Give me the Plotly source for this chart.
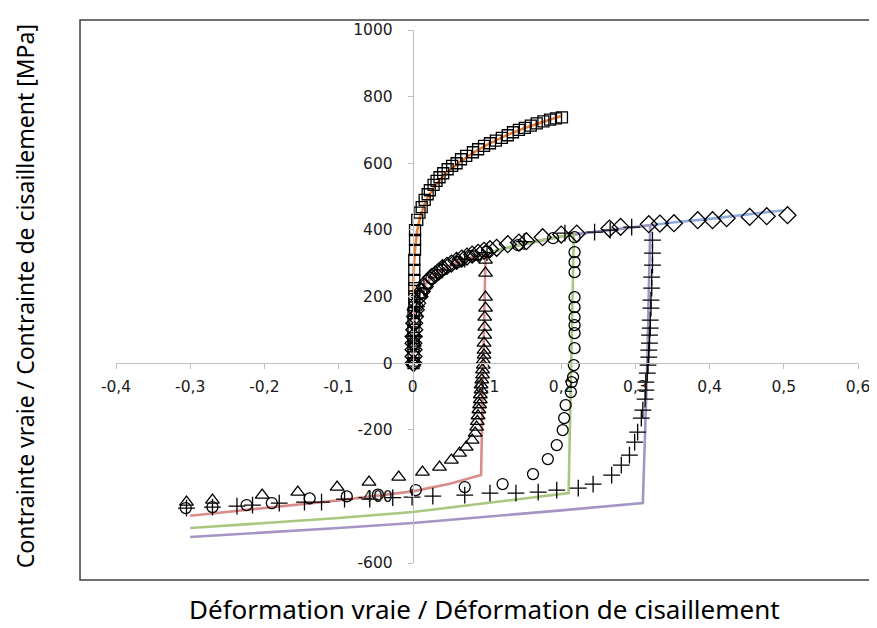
import plotly.graph_objects as go

# ---------------- data ----------------
x_ticks = [-0.4, -0.3, -0.2, -0.1, 0, 0.1, 0.2, 0.3, 0.4, 0.5, 0.6]
x_tick_labels = ["-0,4", "-0,3", "-0,2", "-0,1", "0", "0,1", "0,2", "0,3", "0,4", "0,5", "0,6"]
y_ticks = [-600, -400, -200, 0, 200, 400, 600, 800, 1000]
y_tick_labels = ["-600", "-400", "-200", "0", "200", "400", "600", "800", "1000"]

# model lines
orange_x = [0, 0.001, 0.003, 0.006, 0.01, 0.015, 0.02, 0.03, 0.04, 0.05, 0.06, 0.08, 0.1, 0.125, 0.15, 0.175, 0.2]
orange_y = [200, 280, 340, 400, 440, 472, 497, 532, 560, 580, 598, 630, 655, 683, 705, 724, 742]

blue_x = [0, 0.001, 0.003, 0.006, 0.01, 0.02, 0.03, 0.04, 0.05, 0.06, 0.08, 0.1, 0.125, 0.15, 0.175, 0.2, 0.22, 0.25, 0.3, 0.32, 0.35, 0.4, 0.45, 0.5]
blue_y = [0, 100, 150, 190, 215, 245, 265, 280, 292, 302, 317, 330, 345, 358, 370, 380, 387, 395, 410, 414, 422, 433, 446, 459]

red_x = [0, 0.001, 0.003, 0.006, 0.01, 0.02, 0.03, 0.04, 0.05, 0.06, 0.08, 0.098, 0.095, 0.092, 0.05, 0, -0.1, -0.2, -0.3]
red_y = [0, 100, 150, 190, 215, 245, 265, 280, 292, 302, 317, 325, 0, -336, -362, -385, -412, -436, -458]

green_x = [0, 0.001, 0.003, 0.006, 0.01, 0.02, 0.03, 0.04, 0.05, 0.06, 0.08, 0.1, 0.125, 0.15, 0.175, 0.2, 0.217, 0.214, 0.21, 0.1, 0, -0.1, -0.2, -0.3]
green_y = [0, 100, 150, 190, 215, 245, 265, 280, 292, 302, 317, 330, 345, 358, 370, 380, 386, 0, -390, -420, -447, -465, -480, -495]

purple_x = [0, 0.001, 0.003, 0.006, 0.01, 0.02, 0.03, 0.04, 0.05, 0.06, 0.08, 0.1, 0.125, 0.15, 0.175, 0.2, 0.22, 0.25, 0.3, 0.32, 0.316, 0.31, 0.2, 0.1, 0, -0.1, -0.2, -0.3]
purple_y = [0, 100, 150, 190, 215, 245, 265, 280, 292, 302, 317, 330, 345, 358, 370, 380, 387, 395, 410, 414, 0, -420, -442, -462, -480, -495, -509, -522]

# experimental points
sq_x = [0.001, 0.001, 0.001, 0.001, 0.001, 0.001, 0.001, 0.002, 0.002, 0.002, 0.002, 0.002, 0.002, 0.003, 0.003, 0.003,
        0.006, 0.009, 0.012, 0.016, 0.02, 0.023, 0.028, 0.032, 0.036, 0.041, 0.047, 0.053, 0.059, 0.065, 0.072, 0.081,
        0.088, 0.096, 0.104, 0.112, 0.12, 0.128, 0.135, 0.143, 0.151, 0.159, 0.167, 0.176, 0.185, 0.193, 0.201]
sq_y = [0, 25, 50, 75, 100, 125, 150, 175, 200, 225, 250, 280, 310, 340, 370, 399,
        430, 452, 468, 490, 507, 519, 535, 547, 558, 570, 582, 592, 600, 612, 622, 633,
        642, 652, 660, 668, 676, 684, 693, 700, 706, 713, 720, 726, 731, 735, 738]

dia_x = [0.001, 0.001, 0.001, 0.001, 0.001, 0.002, 0.002, 0.003, 0.004, 0.006, 0.009, 0.012, 0.016, 0.02, 0.025, 0.03,
         0.035, 0.04, 0.046, 0.052, 0.059, 0.066, 0.073, 0.08, 0.088, 0.096, 0.104, 0.113, 0.128, 0.143, 0.153, 0.175,
         0.2, 0.221, 0.265, 0.28, 0.318, 0.333, 0.352, 0.384, 0.404, 0.423, 0.454, 0.477, 0.505]
dia_y = [0, 20, 40, 60, 80, 100, 120, 140, 160, 180, 200, 215, 230, 245, 258, 266,
         275, 285, 292, 299, 307, 314, 320, 326, 331, 337, 342, 346, 357, 362, 366, 378,
         386, 389, 404, 409, 417, 419, 420, 429, 429, 435, 439, 441, 444]

tri_x = [0.001, 0.002, 0.004, 0.01, 0.03, 0.06, 0.08, 0.098, 0.098, 0.098, 0.098, 0.097, 0.097, 0.097, 0.096, 0.096,
         0.096, 0.095, 0.095, 0.094, 0.094, 0.093, 0.092, 0.092, 0.091, 0.091, 0.09, 0.089, 0.088, 0.087, 0.086, 0.084,
         0.08, 0.072, 0.063, 0.052, 0.036, 0.013, -0.019, -0.059, -0.102, -0.155, -0.203, -0.27, -0.305]
tri_y = [0, 60, 150, 205, 265, 303, 320, 309, 270, 198, 165, 138, 108, 84, 60, 39,
         24, 9, -6, -20, -35, -50, -65, -80, -95, -110, -125, -140, -158, -175, -192, -210,
         -231, -252, -270, -291, -312, -327, -342, -357, -372, -387, -396, -411, -417]

circ_x = [0.001, 0.002, 0.003, 0.006, 0.012, 0.025, 0.04, 0.06, 0.08, 0.1, 0.142, 0.189, 0.218, 0.218, 0.218, 0.218,
          0.218, 0.218, 0.218, 0.218, 0.218, 0.218, 0.217, 0.216, 0.214, 0.213, 0.206, 0.204, 0.202, 0.194, 0.182, 0.162,
          0.121, 0.07, 0.004, -0.047, -0.089, -0.139, -0.19, -0.224, -0.27, -0.306]
circ_y = [0, 60, 120, 170, 210, 255, 280, 303, 322, 335, 354, 375, 378, 333, 303, 273,
          198, 168, 138, 114, 90, 45, -6, -42, -57, -87, -126, -165, -201, -246, -288, -333,
          -363, -372, -381, -395, -400, -406, -420, -426, -432, -435]

plus_x = [0.001, 0.002, 0.005, 0.015, 0.04, 0.07, 0.1, 0.15, 0.205, 0.245, 0.266, 0.295, 0.323, 0.323, 0.323, 0.322,
          0.322, 0.321, 0.321, 0.32, 0.32, 0.319, 0.319, 0.318, 0.318, 0.317, 0.316, 0.314, 0.314, 0.313, 0.31, 0.308,
          0.303, 0.299, 0.292, 0.281, 0.268, 0.243, 0.223, 0.194, 0.169, 0.139, 0.104, 0.07, 0.027, -0.001, -0.027,
          -0.058, -0.092, -0.123, -0.146, -0.18, -0.216, -0.237, -0.27, -0.305]
plus_y = [0, 80, 170, 225, 280, 312, 332, 365, 390, 393, 399, 408, 369, 330, 294, 258,
          225, 189, 165, 129, 105, 84, 60, 39, 18, -6, -30, -57, -81, -108, -141, -165,
          -207, -237, -276, -306, -336, -363, -375, -381, -387, -390, -390, -396, -399, -402, -404,
          -408, -408, -417, -417, -420, -426, -429, -432, -435]

# ---------------- figure ----------------
fig = go.Figure()
line_w = 2.6
fig.add_trace(go.Scatter(x=blue_x, y=blue_y, mode="lines", line=dict(color="#8FAADC", width=line_w), hoverinfo="skip"))
fig.add_trace(go.Scatter(x=purple_x, y=purple_y, mode="lines", line=dict(color="#A495C4", width=line_w), hoverinfo="skip"))
fig.add_trace(go.Scatter(x=green_x, y=green_y, mode="lines", line=dict(color="#A9C77E", width=line_w), hoverinfo="skip"))
fig.add_trace(go.Scatter(x=red_x, y=red_y, mode="lines", line=dict(color="#D98D8B", width=line_w), hoverinfo="skip"))
fig.add_trace(go.Scatter(x=orange_x, y=orange_y, mode="lines", line=dict(color="#EE7F2D", width=line_w), hoverinfo="skip"))

mk_line = dict(color="black", width=1.3)
fig.add_trace(go.Scatter(x=sq_x, y=sq_y, mode="markers",
                         marker=dict(symbol="square-open", size=11, color="black", line=mk_line)))
fig.add_trace(go.Scatter(x=dia_x, y=dia_y, mode="markers",
                         marker=dict(symbol="diamond-open", size=13, color="black", line=mk_line)))
fig.add_trace(go.Scatter(x=tri_x, y=tri_y, mode="markers",
                         marker=dict(symbol="triangle-up-open", size=12, color="black", line=mk_line)))
fig.add_trace(go.Scatter(x=circ_x, y=circ_y, mode="markers",
                         marker=dict(symbol="circle-open", size=11, color="black", line=mk_line)))
fig.add_trace(go.Scatter(x=plus_x, y=plus_y, mode="markers",
                         marker=dict(symbol="cross-thin-open", size=12, color="black", line=mk_line)))

tick_font = dict(family="DejaVu Sans", size=15.5, color="#1a1a1a")
fig.update_layout(
    width=877, height=628,
    margin=dict(l=108, r=27, t=22, b=73),
    paper_bgcolor="white", plot_bgcolor="rgba(0,0,0,0)",
    showlegend=False,
    xaxis=dict(range=[-0.4, 0.6], tickvals=x_ticks, ticktext=x_tick_labels,
               showgrid=False, zeroline=False, showline=True, linecolor="#BFBFBF", linewidth=1,
               ticks="outside", ticklen=5, tickcolor="#BFBFBF", ticklabelstandoff=4,
               anchor="free", position=0.375, tickfont=tick_font),
    yaxis=dict(range=[-600, 1000], tickvals=y_ticks, ticktext=y_tick_labels,
               showgrid=False, zeroline=False, showline=True, linecolor="#BFBFBF", linewidth=1,
               ticks="outside", ticklen=5, tickcolor="#BFBFBF", ticklabelstandoff=12,
               anchor="free", position=0.4, tickfont=tick_font),
    shapes=[dict(type="rect", xref="paper", yref="paper",
                 x0=-0.0485, x1=1.05, y0=-0.032, y1=1.0188,
                 line=dict(color="#404040", width=1.5), fillcolor="rgba(0,0,0,0)", layer="below")],
    annotations=[
        dict(text="Déformation vraie / Déformation de cisaillement", xref="paper", yref="paper",
             x=0.497, y=-0.086, xanchor="center", yanchor="middle", showarrow=False,
             font=dict(family="Noto Sans", size=26, color="black")),
        dict(text="Contrainte vraie / Contrainte de cisaillement [MPa]", xref="paper", yref="paper",
             x=-0.123, y=0.5, xanchor="center", yanchor="middle", textangle=-90, showarrow=False,
             font=dict(family="Noto Sans", size=23, color="black")),
    ],
)

fig.write_html("out.html")
